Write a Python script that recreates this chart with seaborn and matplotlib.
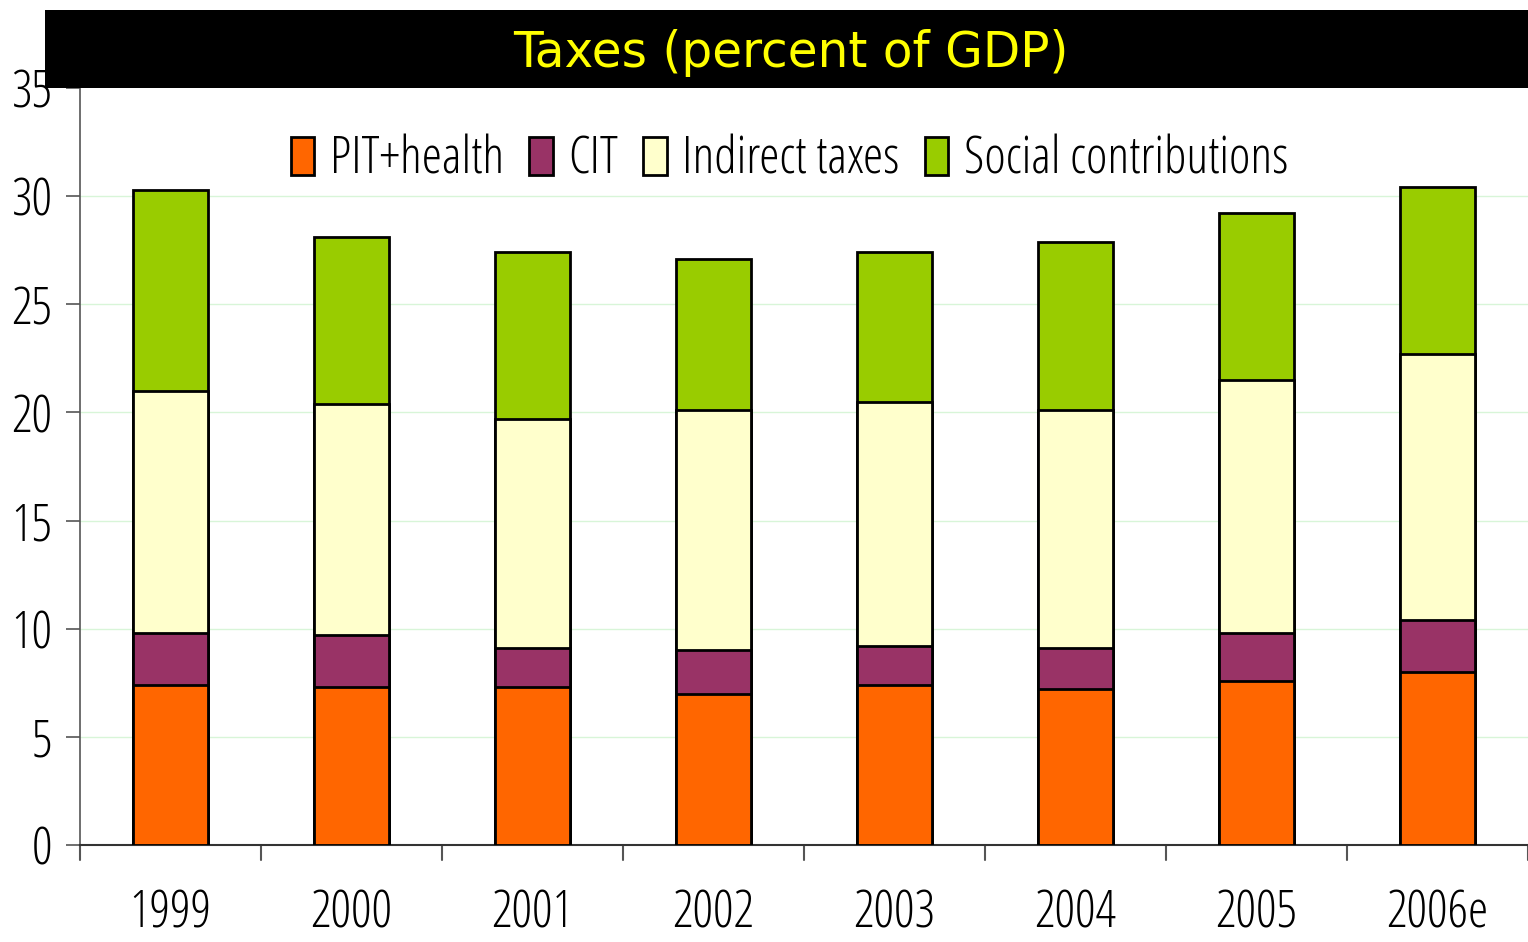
import numpy as np
import pandas as pd
import matplotlib
matplotlib.use("Agg")
import matplotlib.pyplot as plt
import seaborn as sns
from matplotlib.patches import Patch

years = ["1999", "2000", "2001", "2002", "2003", "2004", "2005", "2006e"]
pit = [7.4, 7.3, 7.3, 7.0, 7.4, 7.2, 7.6, 8.0]
cit = [2.4, 2.4, 1.8, 2.0, 1.8, 1.9, 2.2, 2.4]
indirect = [11.2, 10.7, 10.6, 11.1, 11.3, 11.0, 11.7, 12.3]
social = [9.3, 7.7, 7.7, 7.0, 6.9, 7.8, 7.7, 7.7]

labels = ["PIT+health", "CIT", "Indirect taxes", "Social contributions"]
colors = ["#FF6600", "#993366", "#FFFFCC", "#99CC00"]

sns.set_style("white")
plt.rcParams["font.family"] = ["Open Sans", "DejaVu Sans"]
plt.rcParams["text.color"] = "black"
plt.rcParams["xtick.color"] = "black"
plt.rcParams["ytick.color"] = "black"
cond = dict(family=["Open Sans", "DejaVu Sans"], stretch="condensed", weight="medium", size=37)

df = pd.DataFrame({"year": years, "pit": pit, "cit": cit,
                   "indirect": indirect, "social": social})
cum = df[["pit", "cit", "indirect", "social"]].cumsum(axis=1)

fig = plt.figure(figsize=(15.28, 9.42), dpi=100)
ax = fig.add_axes([80 / 1528, 1 - 845 / 942, 1 - 80 / 1528, (845 - 88) / 942])

# stacked bars drawn top-down as overlapping cumulative totals
for col, color in zip(["social", "indirect", "cit", "pit"], colors[::-1]):
    sns.barplot(x=df["year"], y=cum[col], color=color, width=0.41,
                edgecolor="black", linewidth=2, saturation=1, ax=ax, zorder=3)

ax.set_xlim(-0.5, 7.5)
ax.set_ylim(0, 35)
ax.set_yticks(range(0, 36, 5))
ax.set_xlabel("")
ax.set_ylabel("")
for y in range(5, 35, 5):
    ax.axhline(y, color="#D8F5D8", linewidth=1, zorder=0)

ax.set_xticks(range(len(years)))
ax.set_xticklabels(years)
ax.tick_params(axis="x", length=0, pad=31)
for x in np.arange(-0.5, 8, 1):
    ax.plot([x, x], [0, -0.02], transform=ax.get_xaxis_transform(),
            color="#555555", linewidth=1.5, clip_on=False)
ax.tick_params(axis="y", length=10, width=1.2, color="#555555", pad=10, left=True)
for lab in ax.get_xticklabels() + ax.get_yticklabels():
    lab.set_fontproperties(matplotlib.font_manager.FontProperties(**cond))

sns.despine(ax=ax, top=True, right=True)
ax.spines["left"].set_color("#555555")
ax.spines["left"].set_linewidth(1.2)
ax.spines["bottom"].set_color("#333333")
ax.spines["bottom"].set_linewidth(1.5)

handles = [Patch(facecolor=c, edgecolor="black", linewidth=2) for c in colors]
leg = ax.legend(handles, labels, loc="upper center", bbox_to_anchor=(0.49, 1.0),
                ncol=4, frameon=False, handlelength=0.45, handleheight=0.75,
                handletextpad=0.3, columnspacing=0.5, prop=cond)

# black title bar
tax = fig.add_axes([45 / 1528, 1 - 88 / 942, 1 - 45 / 1528, 78 / 942])
tax.set_facecolor("black")
tax.set_xticks([])
tax.set_yticks([])
for s in tax.spines.values():
    s.set_visible(False)
tax.text(0.503, 0.45, "Taxes (percent of GDP)", color="#FFFF00", fontsize=35,
         family="DejaVu Sans", ha="center", va="center", transform=tax.transAxes)

fig.savefig("out.png", dpi=100)
